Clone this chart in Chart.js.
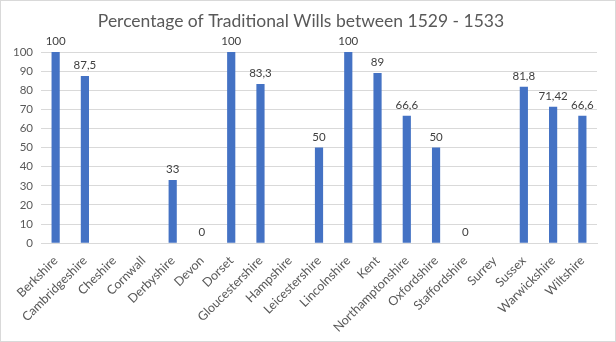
<!DOCTYPE html>
<html>
<head>
<meta charset="utf-8">
<script src="https://cdn.jsdelivr.net/npm/chart.js@4"></script>
<style>
  html, body { margin: 0; padding: 0; background: #fff; }
  #wrap { position: relative; width: 614px; height: 340px; border: 1px solid #d9d9d9; }
</style>
</head>
<body>
<div id="wrap"><canvas id="myChart" width="614" height="340"></canvas></div>
<script>
// counties and the share of traditional wills (null = no bar, no label)
const counties = ['Berkshire', 'Cambridgeshire', 'Cheshire', 'Cornwall', 'Derbyshire', 'Devon', 'Dorset',
	'Gloucestershire', 'Hampshire', 'Leicestershire', 'Lincolnshire', 'Kent', 'Northamptonshire',
	'Oxfordshire', 'Staffordshire', 'Surrey', 'Sussex', 'Warwickshire', 'Wiltshire'];
const percents = [100, 87.5, null, null, 33, 0, 100, 83.3, null, 50, 100, 89, 66.6, 50, 0, null, 81.8, 71.42, 66.6];
const yTicks = [0, 10, 20, 30, 40, 50, 60, 70, 80, 90, 100];

const fontName = 'Lato, "Open Sans", sans-serif';

// value labels above each bar, with comma decimals like the original
const barLabels = {
	id: 'barLabels',
	afterDatasetsDraw(chart) {
		const c = chart.ctx;
		const meta = chart.getDatasetMeta(0);
		c.save();
		c.font = '11.5px ' + fontName;
		c.fillStyle = '#404040';
		c.textAlign = 'center';
		c.textBaseline = 'bottom';
		meta.data.forEach(function (bar, i) {
			const v = percents[i];
			if (v === null) return;
			c.fillText(String(v).replace('.', ','), bar.x, bar.y - 5);
		});
		c.restore();
	}
};

const ctx = document.getElementById('myChart').getContext('2d');
const myChart = new Chart(ctx, {
	type: 'bar',
	data: {
		labels: counties,
		datasets: [{
			data: percents,
			backgroundColor: '#4472C4',
			barPercentage: 0.28,
			categoryPercentage: 1
		}]
	},
	options: {
		responsive: false,
		animation: false,
		layout: { padding: { top: 4, left: 4, right: 18, bottom: 4 } },
		plugins: {
			legend: { display: false },
			tooltip: { enabled: false },
			title: {
				display: true,
				text: 'Percentage of Traditional Wills between 1529 - 1533',
				color: '#595959',
				font: { family: fontName, size: 17.5, weight: 'normal' },
				padding: { top: 6, bottom: 20 }
			}
		},
		scales: {
			y: {
				min: 0,
				max: 100,
				afterBuildTicks(axis) { axis.ticks = yTicks.map(v => ({ value: v })); },
				ticks: { color: '#595959', font: { family: fontName, size: 11.5 }, padding: 8 },
				grid: { color: '#d9d9d9', drawTicks: false },
				border: { display: false }
			},
			x: {
				ticks: {
					color: '#595959',
					font: { family: fontName, size: 12.5 },
					minRotation: 45,
					maxRotation: 45,
					autoSkip: false,
					padding: 2
				},
				grid: { display: false },
				border: { color: '#d9d9d9' }
			}
		}
	},
	plugins: [barLabels]
});
</script>
</body>
</html>
